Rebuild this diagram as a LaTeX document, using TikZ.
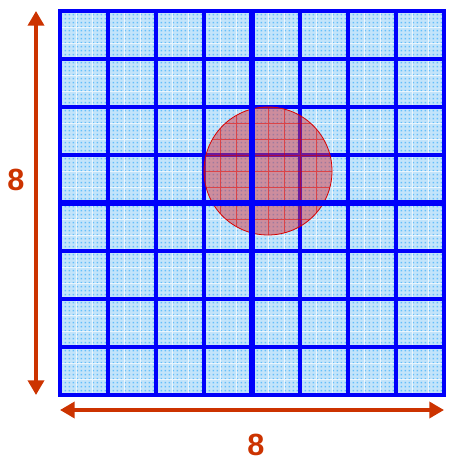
\documentclass[tikz,border=0pt]{standalone}
\usepackage{fontspec}
\setmainfont{Liberation Sans}
\usetikzlibrary{arrows.meta,patterns}
\pgfdeclarepatternformonly{squaredots}{\pgfqpoint{0pt}{0pt}}{\pgfqpoint{3pt}{3pt}}{\pgfqpoint{3pt}{3pt}}{%
  \pgfpathrectangle{\pgfqpoint{0.5pt}{0.5pt}}{\pgfqpoint{1.5pt}{1.5pt}}\pgfusepath{fill}}
\definecolor{cellblue}{RGB}{195,228,250}
\definecolor{dotblue}{RGB}{100,190,250}
\definecolor{gridblue}{RGB}{0,0,250}
\definecolor{arrowred}{RGB}{204,51,0}
\definecolor{circred}{RGB}{215,55,65}
\tikzset{
  gridline/.style={gridblue, line width=2.6pt},
  midline/.style={gridblue, line width=4.4pt},
  borderline/.style={gridblue, line width=3.7pt},
  dimarrow/.style={arrowred, line width=2.6pt, {Triangle[length=11pt,width=12pt]}-{Triangle[length=11pt,width=12pt]}},
  dimlabel/.style={text=arrowred, font=\fontsize{23}{25}\selectfont\bfseries},
}
\begin{document}
\begin{tikzpicture}[x=36pt,y=36pt]
\useasboundingbox (-1.25,-1.354) rectangle (8.0833,8.229);
% background fill
\fill[cellblue] (0,0) rectangle (8,8);
\fill[pattern=squaredots, pattern color=dotblue] (0,0) rectangle (8,8);
\draw[white, line width=0.6pt, opacity=0.7] (0,0) grid[step=1/3] (8,8);
% grid
\foreach \i in {1,2,3,5,6,7} {
  \draw[gridline] (\i,0) -- (\i,8);
  \draw[gridline] (0,\i) -- (8,\i);
}
% circle
\fill[circred, opacity=0.5] (4+1/3,4+2/3) circle (4/3);
\begin{scope}
\clip (4+1/3,4+2/3) circle (4/3);
\draw[red!85!black, line width=0.5pt, opacity=0.55] (2,2) grid[step=1/3] (7,7);
\end{scope}
\draw[red!85!black, line width=0.6pt] (4+1/3,4+2/3) circle (4/3);
% central lines and border on top
\draw[midline] (4,0) -- (4,8);
\draw[midline] (0,4) -- (8,4);
\draw[borderline] (0,0) rectangle (8,8);
% dimension arrows
\coordinate (vt) at (-0.5,8);
\coordinate (vb) at (-0.5,0);
\coordinate (hl) at (0,-0.3125);
\coordinate (hr) at (8,-0.3125);
\draw[dimarrow] (vt) -- (vb);
\draw[dimarrow] (hl) -- (hr);
\node[dimlabel] (lv) at (-0.917,4.48) {8};
\node[dimlabel] (lh) at (4.08,-1.03) {8};
\end{tikzpicture}
\end{document}
